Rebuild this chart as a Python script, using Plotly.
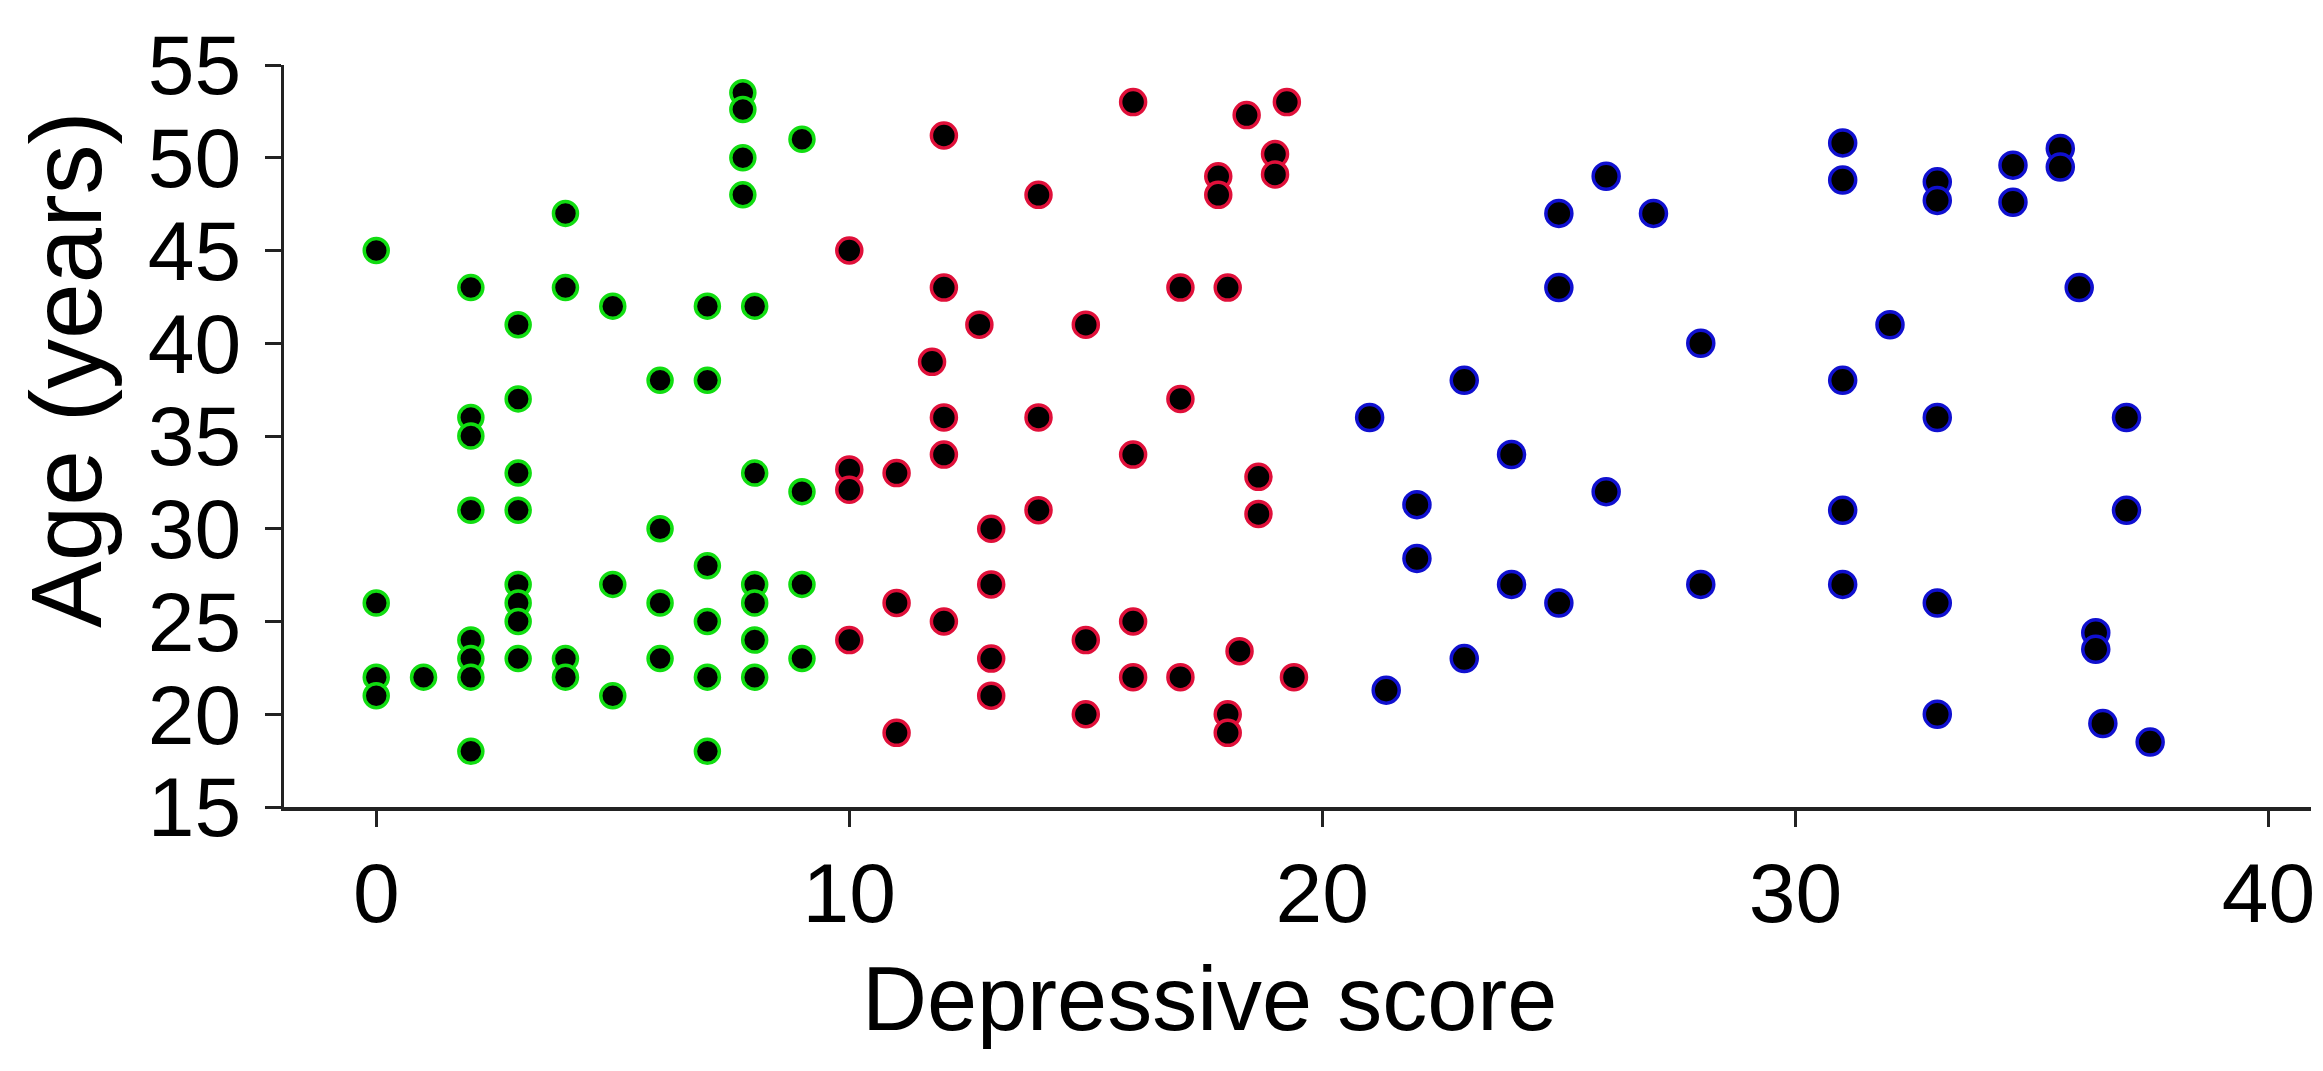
import plotly.graph_objs as go

# group 1 (low score), green outline
green_x = [0, 0, 0, 0,
           1,
           2, 2, 2, 2, 2, 2, 2, 2,
           3, 3, 3, 3, 3, 3, 3, 3,
           4, 4, 4, 4,
           5, 5, 5,
           6, 6, 6, 6,
           7, 7, 7, 7, 7, 7,
           7.75, 7.75, 7.75, 7.75,
           8, 8, 8, 8, 8, 8,
           9, 9, 9, 9]
green_y = [45, 26, 22, 21,
           22,
           43, 36, 35, 31, 24, 23, 22, 18,
           41, 37, 33, 31, 27, 26, 25, 23,
           47, 43, 23, 22,
           42, 27, 21,
           38, 30, 26, 23,
           42, 38, 28, 25, 22, 18,
           53.5, 52.6, 50, 48,
           42, 33, 27, 26, 24, 22,
           51, 32, 27, 23]

# group 2 (mid score), red outline
red_x = [10, 12, 16, 18.4, 19.25, 19, 19, 17.8, 17.8, 14,
         12, 17, 18, 12.75, 15, 11.75, 17, 12, 14, 16,
         12, 10, 10, 11, 18.65, 18.65, 14, 13, 11, 12,
         10, 13, 13, 13, 11, 15, 15, 16, 16, 17,
         18.25, 18, 18, 19.4]
red_y = [45, 51.2, 53, 52.3, 53, 50.2, 49.1, 49, 48, 48,
         43, 43, 43, 41, 41, 39, 37, 36, 36, 34,
         34, 33.2, 32.1, 33, 32.8, 30.8, 31, 30, 26, 25,
         24, 27, 23, 21, 19, 24, 20, 25, 22, 22,
         23.4, 20, 19, 22]

# group 3 (high score), blue outline
blue_x = [21, 23, 22, 22, 24, 24, 21.35, 23, 25, 25,
          26, 27, 28, 31, 31, 33, 33, 34.6, 34.6, 35.6,
          35.6, 36, 32, 31, 33, 37, 26, 31, 37, 28,
          31, 25, 33, 33, 36.35, 36.35, 36.5, 37.5]
blue_y = [36, 38, 31.3, 28.4, 34, 27, 21.3, 23, 47, 43,
          49, 47, 40, 50.8, 48.8, 48.7, 47.7, 49.6, 47.6, 50.5,
          49.5, 43, 41, 38, 36, 36, 32, 31, 31, 27,
          27, 26, 26, 20, 24.4, 23.5, 19.5, 18.5]

x_ticks = [0, 10, 20, 30, 40]
y_ticks = [15, 20, 25, 30, 35, 40, 45, 50, 55]

FONT = 'Liberation Sans, Arial, sans-serif'
AXIS_COLOR = '#222222'


def get_group_trace(x_values, y_values, edge_color, size, name):
  return go.Scatter(
    x=x_values,
    y=y_values,
    mode='markers',
    marker={
      'size': size,
      'color': '#000000',
      'line': {'color': edge_color, 'width': 3.5}
    },
    name=name
  )


data = [
  get_group_trace(green_x, green_y, '#11dd11', 24, 'low'),
  get_group_trace(red_x, red_y, '#e0103a', 25, 'mid'),
  get_group_trace(blue_x, blue_y, '#1010d0', 26, 'high'),
]

# the page body adds an 8px margin, so the figure is 8px smaller than the window
layout = go.Layout(
  width=2315,
  height=1063,
  showlegend=False,
  paper_bgcolor='white',
  plot_bgcolor='white',
  margin=dict(l=276, r=8, t=57, b=264),
  font=dict(family=FONT, color='#000000'),
  xaxis=dict(
    range=[-1.95, 40.9],
    tickvals=x_ticks,
    ticks='outside',
    ticklen=16,
    tickwidth=2.5,
    tickcolor=AXIS_COLOR,
    showline=True,
    linewidth=3.5,
    linecolor=AXIS_COLOR,
    showgrid=False,
    zeroline=False,
    tickfont=dict(size=84, family=FONT, color='#000000'),
    ticklabelstandoff=-6,
  ),
  yaxis=dict(
    range=[15, 55],
    tickvals=y_ticks,
    ticks='outside',
    ticklen=16,
    tickwidth=2.5,
    tickcolor=AXIS_COLOR,
    showline=True,
    linewidth=3,
    linecolor=AXIS_COLOR,
    showgrid=False,
    zeroline=False,
    tickfont=dict(size=84, family=FONT, color='#000000'),
    ticklabelstandoff=7,
  ),
  annotations=[
    dict(text='Age (years)', xref='paper', yref='paper', x=-0.1075, y=0.589,
         xanchor='center', yanchor='middle', textangle=-90, showarrow=False,
         font=dict(size=100, family=FONT, color='#000000')),
    dict(text='Depressive score', xref='paper', yref='paper', x=0.4564, y=-0.259,
         xanchor='center', yanchor='middle', showarrow=False,
         font=dict(size=90, family=FONT, color='#000000')),
  ]
)

fig = go.Figure(data=data, layout=layout)
fig.write_html('out.html')
